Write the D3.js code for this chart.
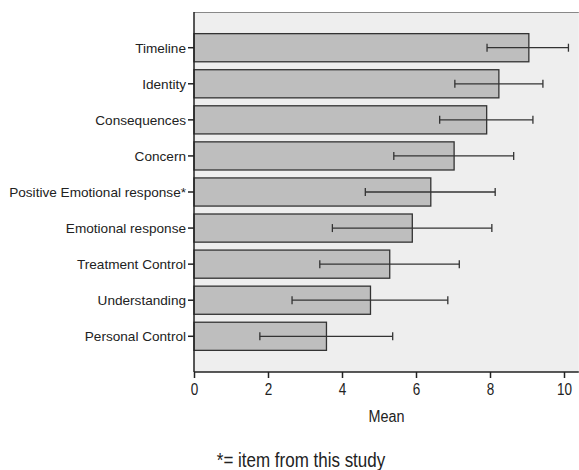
<!DOCTYPE html>
<html><head><meta charset="utf-8">
<script src="https://cdn.jsdelivr.net/npm/d3@7"></script>
<style>body{margin:0;background:#fff}svg{display:block}text{font-family:"Liberation Sans",Arial,sans-serif;fill:#222}</style>
</head><body>
<svg id="c" width="579" height="470"></svg>
<script>
const categories = ["Timeline","Identity","Consequences","Concern","Positive Emotional response*","Emotional response","Treatment Control","Understanding","Personal Control"];
const means = [9.05, 8.24, 7.91, 7.03, 6.40, 5.90, 5.29, 4.77, 3.58];
const lower = [7.92, 7.05, 6.64, 5.40, 4.63, 3.74, 3.40, 2.65, 1.78];
const upper = [10.12, 9.43, 9.16, 8.64, 8.14, 8.05, 7.17, 6.86, 5.37];
const xTicks = [0, 2, 4, 6, 8, 10];
const xTitle = "Mean";
const footnote = "*= item from this study";

const svg = d3.select("#c");
const L = 194, T = 12, B = 372;
const x = d3.scaleLinear().domain([0, 10.4]).range([L, L + 37 * 10.4]);
const y = d3.scaleBand().domain(categories).range([T, B]).paddingInner(0.22).paddingOuter(0.6);
const R = x.range()[1];

svg.append("rect").attr("x", L).attr("y", T).attr("width", R - L).attr("height", B - T).attr("fill", "#eeeeee");
svg.append("line").attr("x1", L).attr("x2", R).attr("y1", T + 0.5).attr("y2", T + 0.5).attr("stroke", "#888");

const data = categories.map((c, i) => ({c, m: means[i], lo: lower[i], hi: upper[i]}));

svg.selectAll("rect.bar").data(data).join("rect").attr("class", "bar")
  .attr("x", L).attr("y", d => y(d.c)).attr("width", d => x(d.m) - L).attr("height", y.bandwidth())
  .attr("fill", "#bebebe").attr("stroke", "#333").attr("stroke-width", 1.3);

const eb = svg.append("g").attr("stroke", "#333").attr("stroke-width", 1.3);
data.forEach(d => {
  const cy = y(d.c) + y.bandwidth() / 2;
  eb.append("line").attr("x1", x(d.lo)).attr("x2", x(d.hi)).attr("y1", cy).attr("y2", cy);
  eb.append("line").attr("x1", x(d.lo)).attr("x2", x(d.lo)).attr("y1", cy - 4).attr("y2", cy + 4);
  eb.append("line").attr("x1", x(d.hi)).attr("x2", x(d.hi)).attr("y1", cy - 4).attr("y2", cy + 4);
});

const ya = svg.append("g").attr("transform", `translate(${L},0)`)
  .call(d3.axisLeft(y).tickSize(6).tickPadding(2).tickSizeOuter(0));
ya.select(".domain").attr("stroke", "#222").attr("stroke-width", 1.5).attr("d", `M0,${T}V${B}`);
ya.selectAll(".tick line").attr("stroke", "#222").attr("stroke-width", 1.5);
ya.selectAll("text").attr("font-size", 13.6).attr("dy", "0.38em").style("fill", "#222");

const xa = svg.append("g").attr("transform", `translate(0,${B})`)
  .call(d3.axisBottom(x).tickValues(xTicks).tickSize(6).tickPadding(3).tickSizeOuter(0));
xa.select(".domain").attr("stroke", "#222").attr("stroke-width", 1.5).attr("d", `M${L},0H${R}`);
xa.selectAll(".tick line").attr("stroke", "#222").attr("stroke-width", 1.5);
xa.selectAll("text").attr("font-size", 13.5).attr("y", null).attr("dy", null)
  .attr("transform", "translate(0,23) scale(1,1.25)").style("fill", "#222");

svg.append("text").attr("transform", `translate(${(L + R) / 2},422) scale(1,1.2)`)
  .attr("text-anchor", "middle").attr("font-size", 14.4).text(xTitle);
svg.append("text").attr("transform", "translate(301,467) scale(1,1.15)")
  .attr("text-anchor", "middle").attr("font-size", 17).text(footnote);
</script>
</body></html>
